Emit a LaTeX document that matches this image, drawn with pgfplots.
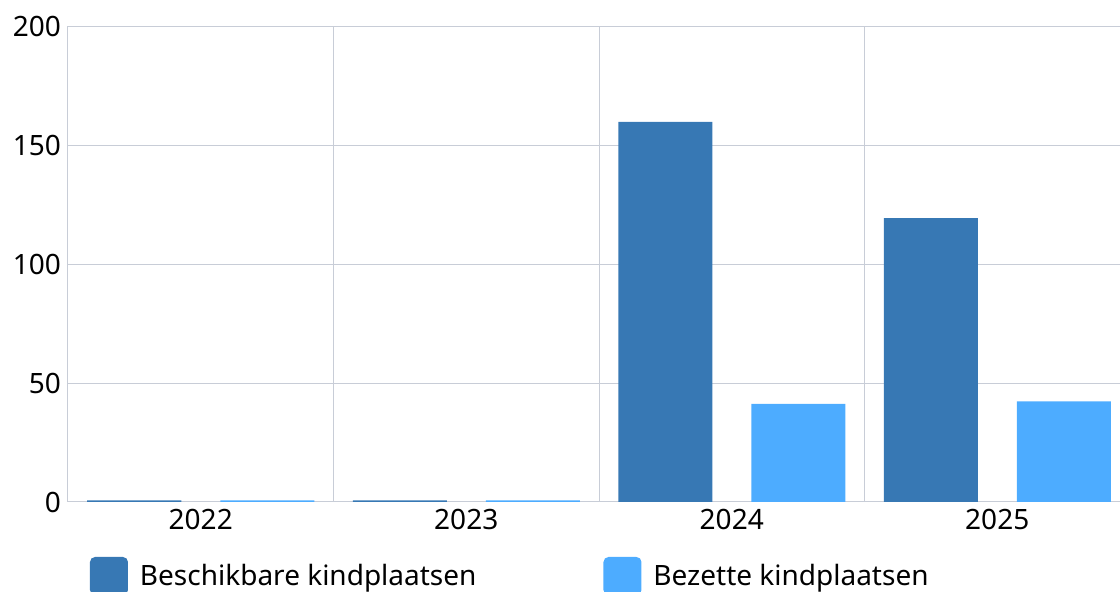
\documentclass[border=0pt]{standalone}
\usepackage{pgfplots}
\pgfplotsset{compat=1.18}
\usepackage{fontspec}
\setmainfont{Noto Sans}
\definecolor{darkbar}{RGB}{55,120,180}
\definecolor{lightbar}{RGB}{77,172,255}
\definecolor{gridc}{RGB}{200,205,215}
\begin{document}
\begin{tikzpicture}[x=1pt,y=1pt]
\path[use as bounding box] (0,0) rectangle (560,296);
\clip (0,0) rectangle (560,296);
\begin{axis}[
  at={(34pt,45pt)}, anchor=south west,
  width=531pt, height=237.5pt, scale only axis,
  xmin=-0.5, xmax=3.5, ymin=0, ymax=200,
  xtick={0,1,2,3}, xticklabels={2022,2023,2024,2025},
  minor xtick={-0.5,0.5,1.5,2.5,3.5},
  ytick={0,50,100,150,200},
  xmajorgrids=false, xminorgrids=true, ymajorgrids=true,
  grid style={gridc, line width=0.5pt},
  minor grid style={gridc, line width=0.5pt},
  axis line style={gridc, line width=0.5pt},
  major tick length=0pt, minor tick length=0pt,
  tick label style={font=\fontsize{14}{16}\selectfont},
  /pgf/number format/assume math mode=true,
  legend style={at={(0.0207,-0.1158)}, anchor=north west, draw=none, fill=none,
    inner sep=0pt, outer sep=0pt, nodes={inner sep=0pt}, legend columns=2,
    font=\fontsize{14}{16}\selectfont},
  legend cell align=left,
  legend image code/.code={\fill[#1, rounded corners=2.5pt] (0pt,-9.5pt) rectangle (19pt,9.5pt);},
]
\addplot[ybar, bar width=47pt, bar shift=-33.25pt, fill=darkbar, draw=none]
  coordinates {(0,0.7) (1,0.7) (2,160) (3,119.5)};
\addlegendentry{\hspace*{6pt}\makebox[231.75pt][l]{Beschikbare kindplaatsen}}
\addplot[ybar, bar width=47pt, bar shift=33.25pt, fill=lightbar, draw=none]
  coordinates {(0,0.7) (1,0.7) (2,41.3) (3,42.4)};
\addlegendentry{\hspace*{6pt}Bezette kindplaatsen}
\end{axis}
\end{tikzpicture}
\end{document}
